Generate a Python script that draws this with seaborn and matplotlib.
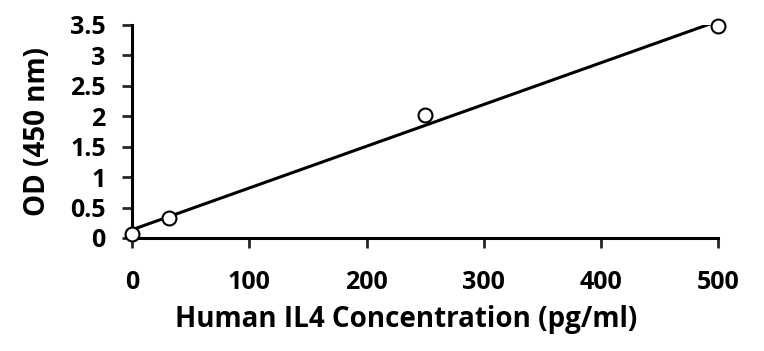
import numpy as np
import pandas as pd
import seaborn as sns
import matplotlib.pyplot as plt

# standard curve values
concentration = [0, 31.25, 250, 500]
od_450 = [0.07, 0.33, 2.02, 3.48]
x_ticks = [0, 100, 200, 300, 400, 500]
y_ticks = [0, 0.5, 1, 1.5, 2, 2.5, 3, 3.5]
y_tick_labels = ['0', '0.5', '1', '1.5', '2', '2.5', '3', '3.5']

df = pd.DataFrame({'conc': concentration, 'od': od_450})

sns.set_theme(style='white')
plt.rcParams['font.family'] = ['Open Sans', 'DejaVu Sans']
plt.rcParams['font.weight'] = 'bold'

fig = plt.figure(figsize=(7.64, 3.51), dpi=100)
ax = fig.add_axes([0.173, 0.322, 0.767, 0.607])

# linear fit line
sns.regplot(data=df, x='conc', y='od', ci=None, scatter=False, ax=ax,
            line_kws={'color': 'black', 'lw': 2.2})
# open circle markers
sns.scatterplot(data=df, x='conc', y='od', ax=ax, s=100, marker='o',
                facecolor='white', edgecolor='black', linewidth=1.5, zorder=3)

ax.set_xlim(0, 500)
ax.set_ylim(0, 3.5)
ax.set_xticks(x_ticks)
ax.set_yticks(y_ticks)
ax.set_yticklabels(y_tick_labels)
ax.tick_params(axis='both', labelsize=18, length=7, width=2, direction='out',
               bottom=True, left=True, labelcolor='black')
ax.tick_params(axis='y', pad=12)
ax.tick_params(axis='x', pad=16)
for lab in ax.get_xticklabels() + ax.get_yticklabels():
    lab.set_fontweight('bold')

sns.despine(ax=ax)
for side in ['left', 'bottom']:
    ax.spines[side].set_linewidth(2.2)
    ax.spines[side].set_color('black')

ax.set_xlabel('Human IL4 Concentration (pg/ml)', fontsize=20, fontweight='bold',
              labelpad=7, color='black')
ax.xaxis.label.set_x(0.468)
ax.set_ylabel('OD (450 nm)', fontsize=20, fontweight='bold', labelpad=13, color='black')
for c in ax.collections:
    c.set_clip_on(False)

fig.savefig('out.png', dpi=100)
